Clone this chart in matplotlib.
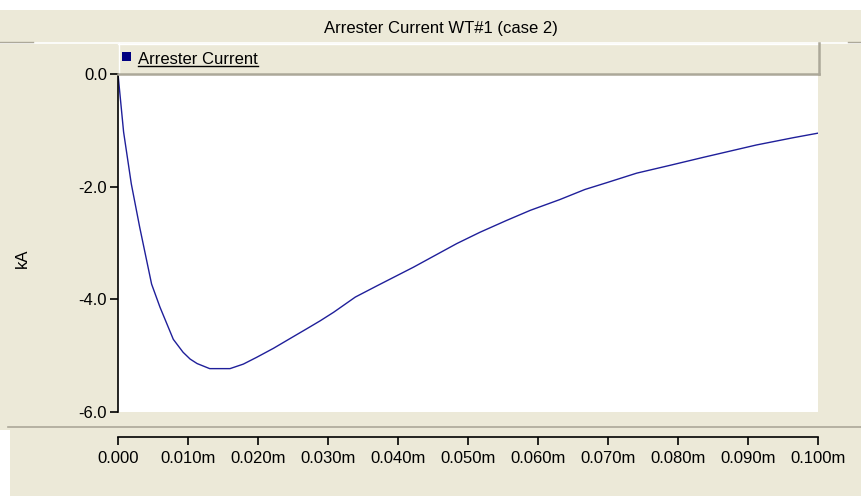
import matplotlib
matplotlib.use("Agg")
import matplotlib.pyplot as plt
from matplotlib.patches import Rectangle
from matplotlib.lines import Line2D

# arrester current, case 2 (time in s, current in kA)
t = [0.0000, 0.0008, 0.0019, 0.0031, 0.0048, 0.0060, 0.0079, 0.0093,
     0.0103, 0.0113, 0.0131, 0.0160, 0.0179, 0.0198, 0.0222, 0.0248, 0.0270,
     0.0289, 0.0308, 0.0339, 0.0370, 0.0422, 0.0484, 0.0517, 0.0555,
     0.0589, 0.0631, 0.0667, 0.0698, 0.0741, 0.0789, 0.0836, 0.0912, 0.0965,
     0.1000]
i_kA = [0.00, -1.03, -1.95, -2.72, -3.73, -4.14, -4.71, -4.94,
        -5.06, -5.14, -5.23, -5.23, -5.15, -5.03, -4.87, -4.68, -4.52,
        -4.38, -4.23, -3.96, -3.76, -3.43, -3.01, -2.81, -2.60,
        -2.42, -2.23, -2.05, -1.93, -1.76, -1.62, -1.48, -1.26, -1.13,
        -1.05]

x_ticks = [0.00, 0.01, 0.02, 0.03, 0.04, 0.05, 0.06, 0.07, 0.08, 0.09, 0.10]
x_labels = ["0.000", "0.010m", "0.020m", "0.030m", "0.040m", "0.050m",
            "0.060m", "0.070m", "0.080m", "0.090m", "0.100m"]
y_ticks = [0.0, -2.0, -4.0, -6.0]
y_labels = ["0.0", "-2.0", "-4.0", "-6.0"]

title = "Arrester Current WT#1 (case 2)"
series_name = "Arrester Current"

plt.rcParams['font.family'] = ['Liberation Sans', 'DejaVu Sans']
FS = 12

W, H = 861, 496
BG = '#ECE9D8'
SHADE = '#ACA899'
NAVY = '#000080'

fig = plt.figure(figsize=(W / 100, H / 100), dpi=100, facecolor=BG)


def box(x, y, w, h):
    # pixel box (top-left origin) -> figure fraction
    return [x / W, 1 - (y + h) / H, w / W, h / H]


def rect(x, y, w, h, color):
    l, b, ww, hh = box(x, y, w, h)
    fig.add_artist(Rectangle((l, b), ww, hh, transform=fig.transFigure,
                             facecolor=color, edgecolor='none', zorder=0))


def hline(x0, x1, y, color, lw=1.0):
    fig.add_artist(Line2D([x0 / W, x1 / W], [1 - y / H, 1 - y / H],
                          transform=fig.transFigure, color=color, lw=lw))


def vline(x, y0, y1, color, lw=1.0):
    fig.add_artist(Line2D([x / W, x / W], [1 - y0 / H, 1 - y1 / H],
                          transform=fig.transFigure, color=color, lw=lw))


# window frame
rect(0, 0, W, 10, 'white')
rect(0, 430, 10, H - 430, 'white')
hline(0, W, 42.5, 'white', 1.2)
hline(0, 33, 41.5, SHADE)
hline(848, W, 41.5, SHADE)
hline(8, W, 427, SHADE, 1.2)

fig.text(441 / W, 1 - 28 / H, title, ha='center', va='center', fontsize=FS)

# legend strip
rect(118, 43, 700, 31, BG)
hline(118, 818, 43.5, 'white')
vline(118.5, 43, 74, 'white')
hline(118, 819, 73.5, SHADE, 1.8)
vline(818.5, 43, 74, SHADE, 1.8)
rect(122, 52, 9, 9, NAVY)
leg = fig.text(138 / W, 1 - 59 / H, series_name, ha='left', va='center', fontsize=FS)

# plot area
ax = fig.add_axes(box(118, 74, 700, 338))
ax.set_facecolor('white')
ax.plot(t, i_kA, color='#1f1f9a', lw=1.0, solid_joinstyle='round')
ax.set_xlim(0, 0.1)
ax.set_ylim(-6.0, 0.0)

for side in ['top', 'right']:
    ax.spines[side].set_visible(False)
ax.spines['left'].set_color('black')
ax.spines['left'].set_linewidth(1.2)
ax.spines['bottom'].set_position(('outward', 18))
ax.spines['bottom'].set_bounds(0, 0.1)
ax.spines['bottom'].set_linewidth(1.2)

ax.set_xticks(x_ticks)
ax.set_xticklabels(x_labels)
ax.set_yticks(y_ticks)
ax.set_yticklabels(y_labels)
ax.tick_params(axis='both', direction='out', length=6, width=1.2,
               labelsize=FS, colors='black')
ax.tick_params(axis='y', pad=2)
ax.tick_params(axis='x', pad=4)

fig.text(22 / W, 1 - 258 / H, "kA", rotation=90, ha='center', va='center',
         fontsize=FS)

# underline the legend entry
fig.canvas.draw()
bb = leg.get_window_extent().transformed(fig.transFigure.inverted())
fig.add_artist(Line2D([bb.x0, bb.x1], [bb.y0 + 1 / H, bb.y0 + 1 / H],
                      transform=fig.transFigure, color='black', lw=1.0))

fig.savefig('out.png', dpi=100, facecolor=BG)
